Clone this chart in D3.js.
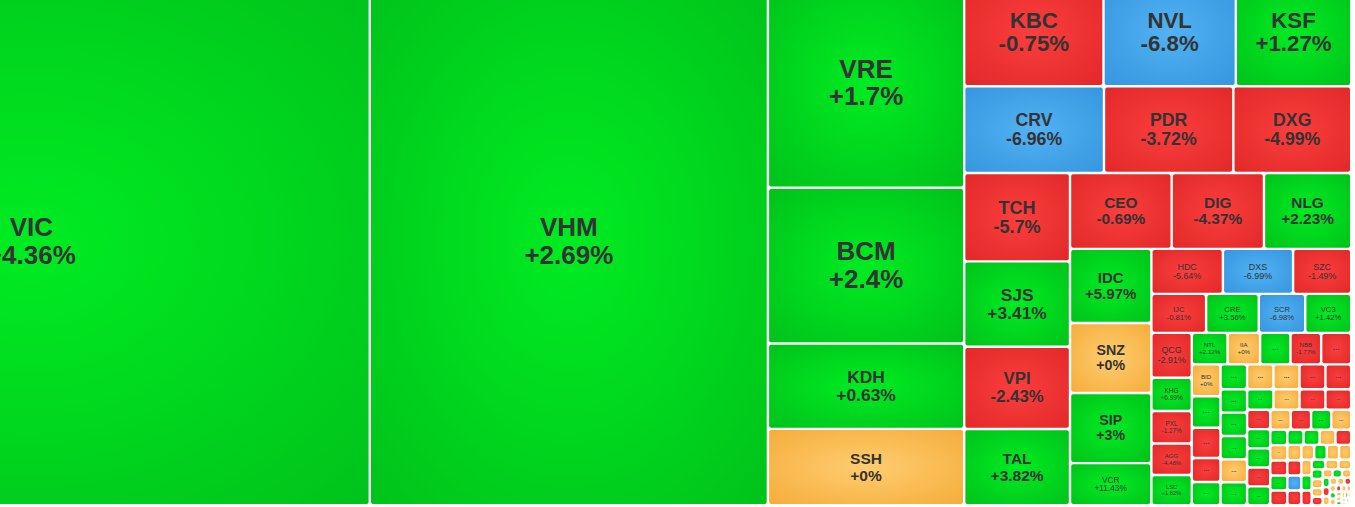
<!DOCTYPE html>
<html>
<head>
<meta charset="utf-8">
<script src="https://cdn.jsdelivr.net/npm/d3@7"></script>
<style>
  html, body { margin: 0; padding: 0; background: #fff; overflow: hidden; }
  svg { display: block; }
</style>
</head>
<body>
<svg id="map"></svg>
<script>
// tickers, % change and market-cap weight, in the order the map lays them out
// ("" = tile too small for a name, drawn as "...")
var tickers = [
  "VIC", "VHM", "VRE", "BCM", "KDH", "SSH", "KBC", "NVL", "KSF", "CRV",
  "PDR", "DXG", "TCH", "SJS", "VPI", "TAL", "CEO", "DIG", "NLG", "IDC",
  "SNZ", "SIP", "VCR", "HDC", "DXS", "SZC", "IJC", "CRE", "SCR", "VC3",
  "QCG", "KHG", "PXL", "AGG", "LSC", "NTL", "IIA", "", "NBB", "",
  "BID", "", "", "", "",
  "", "", "", "", "",
  "", "", "", "", "",
  "", "", "", "",
  "", "", "", "", "",
  "", "", "", "",
  "", "", "", "", "",
  "", "", "", "",
  "", "", "", "",
  "", "", "", "",
  "", "", "",
  "", "", "",
  "", "", "", "",
  "", "", "",
  "", "", "",
  "", "", "",
  "", "", "",
  "", "", "",
  "", "", "",
  "", "", "",
  "", "",
  "", "",
  "", ""
];

var changes = [
  4.36, 2.69, 1.7, 2.4, 0.63, 0, -0.75, -6.8, 1.27, -6.96,
  -3.72, -4.99, -5.7, 3.41, -2.43, 3.82, -0.69, -4.37, 2.23, 5.97,
  0, 3, 11.43, -5.64, -6.99, -1.49, -0.81, 3.56, -6.98, 1.42,
  -2.91, 6.99, -1.27, -4.48, 1.82, 2.12, 0, 1.5, -1.77, -1.2,
  0, 1.1, -1.4, -0.9, 0.8,
  1.2, 0, 0, -1.1, -2.0,
  0.9, 1.3, 0.7, 0, 1.6,
  1.1, 0, -0.6, -1.3,
  -1.0, 0.5, 1.4, -2.2, 0.6,
  0, -1.5, 0.9, 0,
  1.2, 0, -0.8, 0.7, -1.1,
  0.4, 1.0, 0, -0.9,
  0, -1.2, -7, -0.5,
  0, 1.1, 0, 0,
  0, 0.8, -0.7,
  0.6, 0, 0,
  1.3, 0, 0, -1.0,
  0, 0.9, 0,
  0.6, -1.4, 0,
  0, 0, -0.5,
  0, 1.0, 0,
  -0.6, 0, 0,
  0, 0, 0.7,
  0, -1.1, 0,
  0, 0,
  -0.6, 0,
  0, 0
];

var caps = [
  354900, 208700, 40960, 30380, 16660, 14900, 15020, 14270, 12440, 12050,
  11150, 10160, 9300, 8970, 8650, 8020, 7670, 6960, 6580, 5990,
  5670, 5670, 3400, 3200, 3140, 2600, 2120, 2040, 1800, 1780,
  1800, 1340, 1300, 1270, 1210, 1120, 1020, 950, 960, 940,
  910, 900, 865, 685, 665,
  655, 650, 645, 640, 635,
  620, 618, 612, 610, 605,
  540, 535, 530, 528,
  445, 442, 440, 436, 432,
  405, 402, 398, 395,
  262, 260, 256, 253, 250,
  245, 242, 240, 238,
  215, 212, 210, 205,
  190, 186, 183, 180,
  160, 155, 150,
  130, 126, 122,
  105, 100, 96, 92,
  80, 78, 75,
  66, 64, 62,
  55, 52, 50,
  44, 42, 40,
  36, 34, 32,
  28, 26, 24,
  22, 20, 18,
  16, 14,
  12, 10,
  8, 6
];

// how many tiles go in each strip
var rowSizes = [1, 1, 4, 3, 3, 4, 3, 4, 3, 4, 5, 5,
  5, 5, 5, 4, 5, 4,
  5, 4, 4, 4, 3, 3, 4, 3, 3, 3, 3, 3, 3, 3, 2, 2, 2];

var width = 1355, height = 507;
// the map is bigger than the window; the page shows it scrolled
var mapLeft = -306, mapTop = -21, mapW = 1656, mapH = 525;

var tones = {
  up:    ["#00ec22", "#00c01a"],
  down:  ["#fb3e3e", "#e02727"],
  floor: ["#52b2f3", "#3494de"],
  ref:   ["#ffcd70", "#f4ab38"]
};

function tone(c) {
  if (c <= -6.5) return "floor";
  if (c < 0) return "down";
  if (c === 0) return "ref";
  return "up";
}

function fmt(c) {
  return (c >= 0 ? "+" : "") + c + "%";
}

// strip layout: each strip runs along the shorter side, like squarify
function stripTile(parent, x0, y0, x1, y1) {
  var nodes = parent.children, value = parent.value, i0 = 0, r = 0;
  while (i0 < nodes.length) {
    var k = rowSizes[r++] || (nodes.length - i0);
    var row = { children: nodes.slice(i0, i0 + k) };
    row.value = d3.sum(row.children, function(c) { return c.value; });
    var dx = x1 - x0, dy = y1 - y0;
    if (dx < dy) {
      d3.treemapDice(row, x0, y0, x1, y0 += dy * row.value / value);
    } else {
      d3.treemapSlice(row, x0, y0, x0 += dx * row.value / value, y1);
    }
    value -= row.value;
    i0 += k;
  }
}

var stocks = tickers.map(function(t, i) {
  return { name: t, change: changes[i], cap: caps[i] };
});

var svg = d3.select("#map")
  .attr("width", width)
  .attr("height", height);

var defs = svg.append("defs");
Object.keys(tones).forEach(function(k) {
  var g = defs.append("radialGradient")
    .attr("id", "grad-" + k)
    .attr("cx", "50%").attr("cy", "50%").attr("r", "75%");
  g.append("stop").attr("offset", "0%").attr("stop-color", tones[k][0]);
  g.append("stop").attr("offset", "100%").attr("stop-color", tones[k][1]);
});

var root = d3.hierarchy({ children: stocks })
  .sum(function(d) { return d.cap || 0; });

d3.treemap()
  .tile(stripTile)
  .size([mapW, mapH])
  .paddingInner(2.4)
  .round(false)(root);

var gMain = svg.append("g")
  .attr("transform", "translate(" + mapLeft + "," + mapTop + ")");

var cell = gMain.selectAll("g.cell")
  .data(root.leaves())
  .enter().append("g")
  .attr("class", "cell")
  .attr("transform", function(d) { return "translate(" + d.x0 + "," + d.y0 + ")"; });

cell.append("rect")
  .attr("width", function(d) { return Math.max(0, d.x1 - d.x0); })
  .attr("height", function(d) { return Math.max(0, d.y1 - d.y0); })
  .attr("rx", 2).attr("ry", 2)
  .attr("fill", function(d) { return "url(#grad-" + tone(d.data.change) + ")"; });

cell.each(function(d) {
  var w = d.x1 - d.x0, h = d.y1 - d.y0;
  var el = d3.select(this);
  var cx = w / 2, cy = h / 2;
  if (d.data.name) {
    var label = fmt(d.data.change);
    var chars = Math.max(label.length, d.data.name.length);
    var fs = Math.min(26, h * 0.21, w / (chars * 0.62));
    var weight = fs >= 12 ? "bold" : "normal";
    el.append("text")
      .attr("x", cx).attr("y", cy - 0.2 * fs)
      .attr("text-anchor", "middle")
      .attr("font-size", fs)
      .attr("font-weight", weight)
      .attr("fill", "#333")
      .text(d.data.name);
    el.append("text")
      .attr("x", cx).attr("y", cy + 0.87 * fs)
      .attr("text-anchor", "middle")
      .attr("font-size", fs)
      .attr("font-weight", weight)
      .attr("fill", "#333")
      .text(label);
  } else if (w > 14 && h > 11) {
    var fs2 = Math.min(8, h * 0.3);
    el.append("text")
      .attr("x", cx).attr("y", cy + 0.15 * fs2)
      .attr("text-anchor", "middle")
      .attr("font-size", fs2)
      .attr("font-weight", "bold")
      .attr("fill", "#444")
      .text("...");
  }
});

svg.selectAll("text").attr("font-family", "Arial, 'Liberation Sans', sans-serif");
</script>
</body>
</html>
